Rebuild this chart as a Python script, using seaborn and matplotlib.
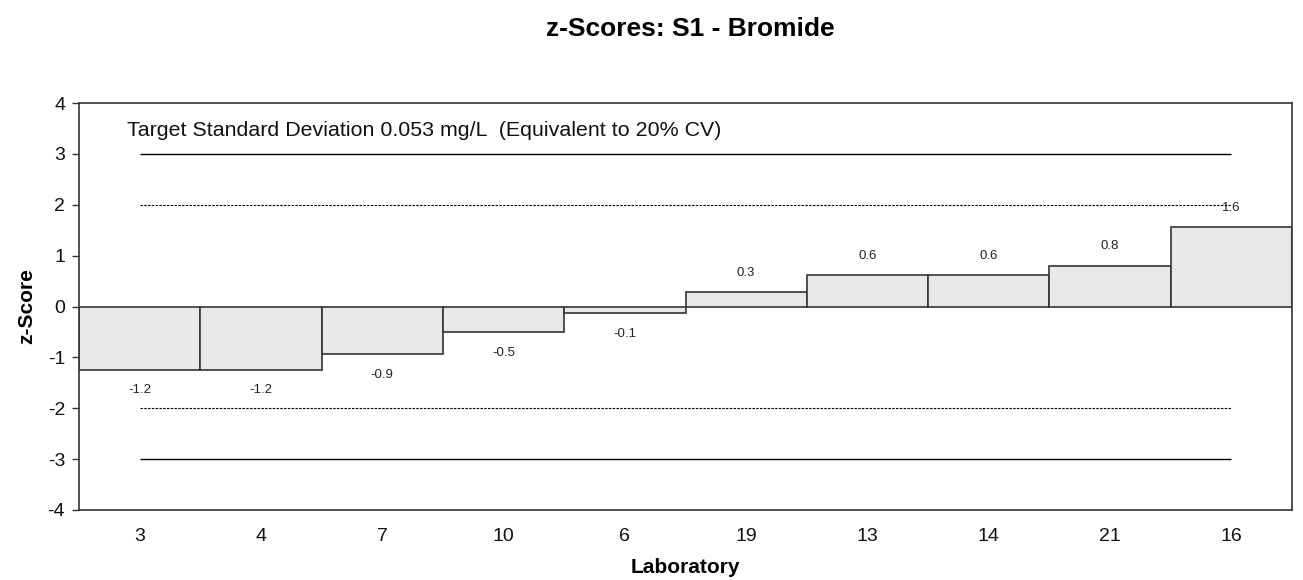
import matplotlib
matplotlib.use("Agg")
import matplotlib.pyplot as plt
import seaborn as sns

# z-score results per laboratory (ordered by score)
laboratories = ["3", "4", "7", "10", "6", "19", "13", "14", "21", "16"]
z_scores = [-1.24, -1.24, -0.93, -0.51, -0.13, 0.28, 0.62, 0.62, 0.80, 1.56]
y_ticks = [-4, -3, -2, -1, 0, 1, 2, 3, 4]
action_limit = 3
warning_limit = 2

sns.set_theme(style="white")
plt.rcParams["font.family"] = ["Liberation Sans", "DejaVu Sans"]
plt.rcParams["text.color"] = "#111111"
plt.rcParams["axes.labelcolor"] = "#111111"

fig = plt.figure(figsize=(13.03, 5.8), dpi=100)
ax = fig.add_axes([0.0606, 0.1207, 0.9310, 0.7017])

sns.barplot(x=laboratories, y=z_scores, order=laboratories, width=1.0,
            color="#e8e8e8", saturation=1, edgecolor="#333333", linewidth=1.2,
            ax=ax, zorder=2)

# Control limits spanning from the first to the last laboratory
n = len(laboratories)
for lim in (action_limit, -action_limit):
    ax.hlines(lim, 0, n - 1, colors="black", linewidth=1.0, zorder=1)
for lim in (warning_limit, -warning_limit):
    ax.hlines(lim, 0, n - 1, colors="black", linewidth=0.8,
              linestyles=(0, (2.2, 1.2)), zorder=4)

# Value labels above positive bars, below negative bars
for i, v in enumerate(z_scores):
    off = 14 if v >= 0 else -15
    ax.annotate(f"{v:.1f}", (i, v), xytext=(0, off), textcoords="offset points",
                ha="center", va="center", fontsize=9.5, color="#222222", zorder=3)

ax.text(-0.105, 3.46, "Target Standard Deviation 0.053 mg/L  (Equivalent to 20% CV)",
        ha="left", va="center", fontsize=15.4, color="#111111")

ax.set_xlim(-0.5, n - 0.5)
ax.set_ylim(-4, 4)
ax.set_yticks(y_ticks)
ax.set_yticklabels([str(t) for t in y_ticks])
ax.tick_params(axis="x", length=0, labelsize=14, pad=13, colors="#111111")
ax.tick_params(axis="y", length=5, width=1, direction="out", labelsize=14,
               pad=5, colors="#111111", left=True)
ax.tick_params(axis="y", color="#333333")
for sp in ax.spines.values():
    sp.set_color("#333333")
    sp.set_linewidth(1.2)

ax.set_xlabel("Laboratory", fontsize=15, fontweight="bold", labelpad=9, color="black")
ax.set_ylabel("z-Score", fontsize=15, fontweight="bold", labelpad=8, color="black")

fig.text(0.530, 0.950, "z-Scores: S1 - Bromide", ha="center", va="center",
         fontsize=19, fontweight="bold", color="black")

fig.savefig("out.png", dpi=100)
